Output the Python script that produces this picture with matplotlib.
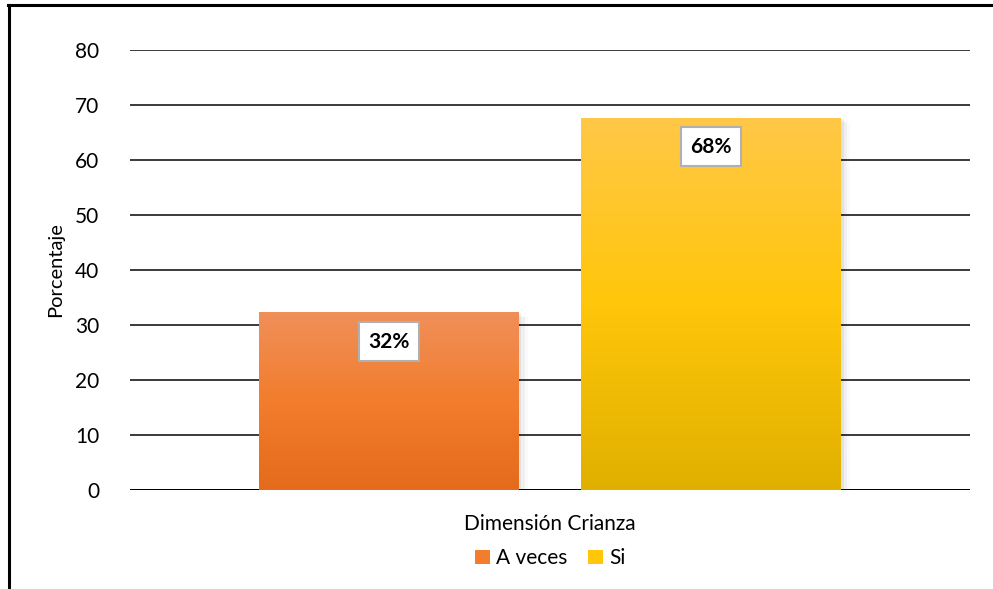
import numpy as np
import matplotlib
matplotlib.use("Agg")
from matplotlib import pyplot as plt
from matplotlib.colors import LinearSegmentedColormap
from matplotlib.lines import Line2D

# Datos del gráfico
categoria = "Dimensión Crianza"
series = ["A veces", "Si"]
valores = [32.3, 67.7]
etiquetas = ["32%", "68%"]
colores_arriba = ["#F08F5A", "#FFC847"]
colores_medio = ["#F27D2C", "#FFC60A"]
colores_abajo = ["#E46B1B", "#E0B000"]

plt.rcParams['font.family'] = ['Lato', 'DejaVu Sans']

fig = plt.figure(figsize=(9.93, 5.89), dpi=100)
ax = fig.add_axes([130 / 993, 1 - 490 / 589, 840 / 993, 440 / 589])

ancho = 0.3095
posiciones = [-0.1917, 0.1917]

for i, (pos, val) in enumerate(zip(posiciones, valores)):
    # sombra suave
    for k, a in enumerate([0.06, 0.04, 0.02]):
        d = 0.003 * (k + 1)
        ax.bar(pos + d, val, width=ancho + 0.002 * k, bottom=-0.3 * (k + 1),
               color="black", alpha=a, zorder=1.5, linewidth=0)
    barra = ax.bar(pos, val, width=ancho, color=colores_abajo[i], zorder=2,
                   linewidth=0, label=series[i])[0]
    cmap = LinearSegmentedColormap.from_list(
        "g", [colores_abajo[i], colores_medio[i], colores_arriba[i]])
    grad = np.linspace(0, 1, 256).reshape(-1, 1)
    img = ax.imshow(grad, cmap=cmap, origin="lower", aspect="auto",
                    extent=[pos - ancho / 2, pos + ancho / 2, 0, val], zorder=2.1)
    img.set_clip_path(barra)
    ax.text(pos, val - 5.3, etiquetas[i], ha="center", va="center", fontsize=15,
            fontweight="bold", zorder=3,
            bbox=dict(boxstyle="square,pad=0.45", facecolor="white",
                      edgecolor="#B0B0B0", linewidth=1.5))

ax.set_xlim(-0.5, 0.5)
ax.set_ylim(0, 80)
ax.set_yticks(range(0, 81, 10))
ax.set_xticks([0])
ax.set_xticklabels([categoria])
ax.tick_params(axis="both", length=0, labelsize=15, colors="black")
ax.tick_params(axis="y", pad=22)
ax.tick_params(axis="x", pad=17)
ax.yaxis.grid(True, color="#3A3A3A", linewidth=1.4)
ax.set_axisbelow(True)
for s in ax.spines.values():
    s.set_visible(False)
ax.axhline(0, color="black", linewidth=1.4, zorder=1)
ax.set_ylabel("Porcentaje", fontsize=14.5, labelpad=8)

leg = ax.legend(loc="upper center", bbox_to_anchor=(0.5, -0.09), ncol=2,
                frameon=False, fontsize=15, handlelength=0.7, handleheight=0.7,
                handletextpad=0.3, columnspacing=1.0)
for h, c in zip(leg.legend_handles, colores_medio):
    h.set_color(c)

# borde del marco del gráfico (recortado)
fig.add_artist(Line2D([9 / 993, 9 / 993], [0, 1 - 5 / 589], color="black", linewidth=2.2))
fig.add_artist(Line2D([8 / 993, 1], [1 - 5 / 589, 1 - 5 / 589], color="black", linewidth=2.2))

fig.savefig("out.png", dpi=100)
